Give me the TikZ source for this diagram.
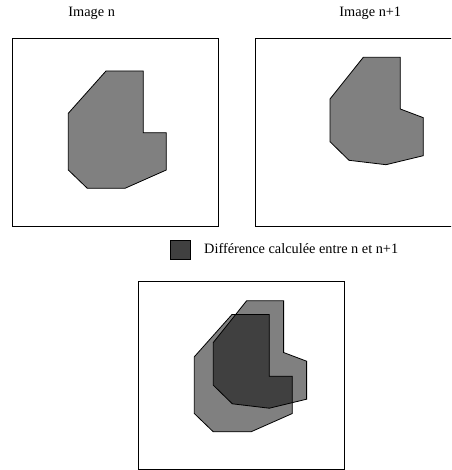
\documentclass[tikz,border=0pt]{standalone}
\usepackage{fontspec}
\setmainfont{Liberation Serif}
\definecolor{shapegray}{RGB}{128,128,128}
\definecolor{diffdark}{RGB}{64,64,64}
\begin{document}
\begin{tikzpicture}[x=1pt,y=-1pt,
  frame/.style={draw=black,line width=0.9pt},
  outline/.style={draw=black,line width=0.8pt,line join=miter},
  lbl/.style={font=\fontsize{14.3}{16}\selectfont,inner sep=0pt,anchor=base}]
\useasboundingbox (0,0) rectangle (451,470);
\clip (0,0) rectangle (451,470);
\def\shapeN{(106,71) -- (143.3,71) -- (143.3,132.7) -- (166.3,132.7) -- (166.3,170) -- (125,188.3) -- (87.3,188.3) -- (68.3,170) -- (68.3,113.3) -- cycle}
\def\shapeM{(363.3,57.3) -- (400.3,57.3) -- (400.3,109) -- (423.3,117.7) -- (423.3,155.7) -- (386,164.7) -- (349,160.3) -- (330,141.7) -- (330,99) -- cycle}
% titles
\node[lbl] (tn) at (91.7,16.8) {Image n};
\node[lbl] (tm) at (370.3,16.8) {Image n+1};
% frame 1
\draw[frame] (12.3,38.3) rectangle (218.3,226.7);
\path[outline,fill=shapegray] \shapeN;
% frame 2
\draw[frame] (255,38.3) rectangle (461,226.7);
\path[outline,fill=shapegray] \shapeM;
% legend
\draw[draw=black,line width=0.8pt,fill=diffdark] (170.7,240) rectangle (190,259.3);
\node[lbl,anchor=base west] (leg) at (204,253) {Différence calculée entre n et n+1};
% frame 3
\draw[frame] (138.3,281.7) rectangle (344.3,469.2);
\begin{scope}[shift={(126,243.5)}]
  \fill[shapegray] \shapeN;
\end{scope}
\begin{scope}[shift={(-116.7,243.5)}]
  \fill[shapegray] \shapeM;
\end{scope}
\begin{scope}
  \begin{scope}[shift={(126,243.5)}]
    \clip \shapeN;
    \begin{scope}[shift={(-242.7,0)}]
      \fill[diffdark] \shapeM;
    \end{scope}
  \end{scope}
\end{scope}
\begin{scope}[shift={(126,243.5)}]
  \path[outline] \shapeN;
\end{scope}
\begin{scope}[shift={(-116.7,243.5)}]
  \path[outline] \shapeM;
\end{scope}
\end{tikzpicture}
\end{document}
